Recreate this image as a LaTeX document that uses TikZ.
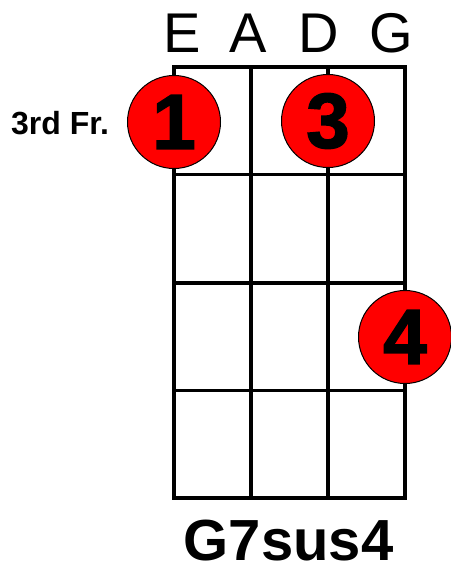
\documentclass[tikz,border=0pt]{standalone}
\usepackage{fontspec}
\setmainfont{Liberation Sans}
\newfontfamily\heavydigits[FakeBold=2]{Liberation Sans Bold}

\tikzset{
  fretline/.style={line width=3.5pt,line cap=rect},
  finger/.style={circle,fill=red,draw=black,line width=1pt,minimum size=93pt,inner sep=0pt,
    font=\fontsize{78}{78}\heavydigits},
  stringname/.style={anchor=base,font=\fontsize{56}{56}\selectfont},
}

\begin{document}
\begin{tikzpicture}[x=1pt,y=-1pt]
\useasboundingbox (0,0) rectangle (450,569);
% strings and frets
\foreach \x in {174,251,328,405}
  \draw[fretline] (\x,67) -- (\x,498);
\foreach \y in {67,174.5,283,390.5,498}
  \draw[fretline] (174,\y) -- (405,\y);
% string names
\node[stringname] (sE) at (182,53) {E};
\node[stringname] (sA) at (248,53) {A};
\node[stringname] (sD) at (319,53) {D};
\node[stringname] (sG) at (391,53) {G};
% fingers
\node[finger] (f1) at (174,122) {1};
\node[finger] (f3) at (328,121) {3};
\node[finger] (f4) at (405,337) {4};
% labels
\node[anchor=base west,inner sep=0pt,font=\fontsize{32}{32}\selectfont\bfseries] (fret) at (11,135) {3rd Fr.};
\node[anchor=base,inner sep=0pt,font=\fontsize{58}{58}\selectfont\bfseries] (chord) at (288.5,560) {G7sus4};
\end{tikzpicture}
\end{document}
